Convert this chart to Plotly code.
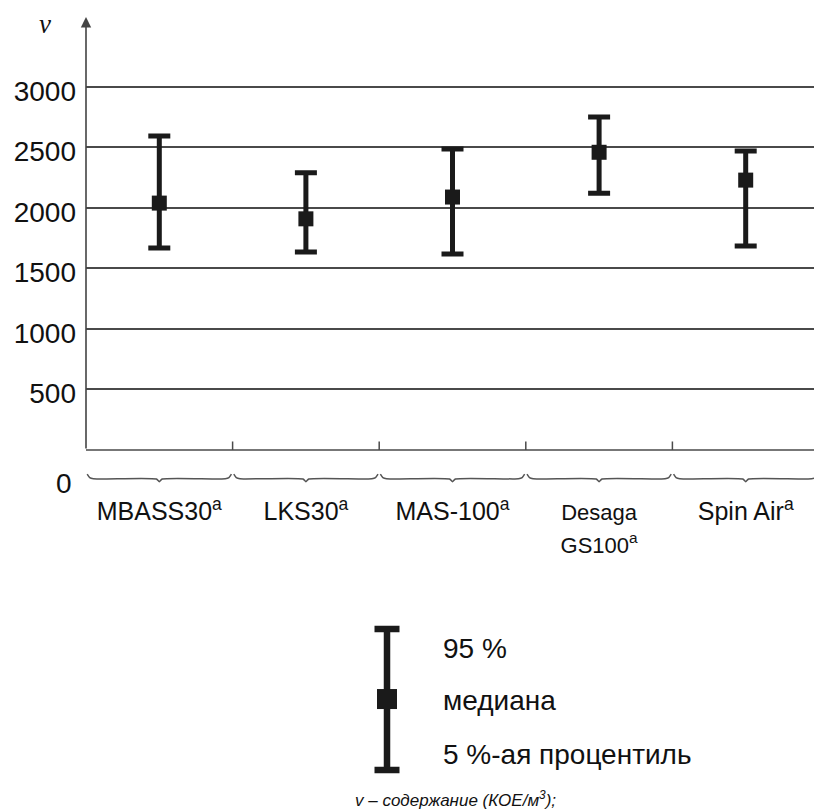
import plotly.graph_objects as go

# ---- data ----
categories = ["MBASS30", "LKS30", "MAS-100", "Desaga GS100", "Spin Air"]
tick_labels = [
    "MBASS30<sup>a</sup>",
    "LKS30<sup>a</sup>",
    "MAS-100<sup>a</sup>",
    "<span style='font-size:22px'>Desaga</span><br><span style='font-size:22px'>GS100<sup>a</sup></span>",
    "Spin Air<sup>a</sup>",
]
median = [2040, 1910, 2090, 2460, 2230]
p95 = [2595, 2290, 2488, 2752, 2471]
p5 = [1669, 1636, 1620, 2122, 1686]
y_ticks = [500, 1000, 1500, 2000, 2500, 3000]

legend_vals = [0.0625, 0.506, 0.944]   # low, median, high of the key (key axis units)
legend_texts = ["95 %", "медиана", "5 %-ая процентиль"]
legend_text_y = [0.82, 0.5, 0.16]
footnote = "v – содержание (КОЕ/м<sup>3</sup>);"

# ---- geometry ----
OFF = 8                      # page body margin of the html page
W, H = 822 - OFF, 812 - OFF
ML, MR, MT, MB = 86 - OFF, 3, 17 - OFF, 12
PW, PH = W - ML - MR, H - MT - MB
Y_TOP, Y_BOT = 3578, -331
INK = "#1a1a1a"
GRID = "#4a4a4a"
FONT = "Liberation Sans, Arial, sans-serif"


def pxx(px):
    return (px - OFF - ML) / PW


def pxy(py):
    return (H - MB - (py - OFF)) / PH


x_idx = list(range(len(categories)))
n = len(categories)

fig = go.Figure()

# category braces below the frame (decorative x-axis)
for i in x_idx:
    xs = [i - 0.492, i - 0.475, i - 0.45, i - 0.02, i, i + 0.02, i + 0.45, i + 0.475, i + 0.492]
    ys = [-200, -228, -238, -240, -262, -240, -238, -228, -200]
    fig.add_trace(go.Scatter(x=xs, y=ys, mode="lines",
                             line=dict(color="#555555", width=1.5, shape="spline", smoothing=0.6),
                             hoverinfo="skip", showlegend=False))

# main error bars
fig.add_trace(go.Scatter(
    x=x_idx, y=median, mode="markers",
    marker=dict(symbol="square", size=15, color=INK),
    error_y=dict(type="data", symmetric=False,
                 array=[h - m for h, m in zip(p95, median)],
                 arrayminus=[m - l for m, l in zip(median, p5)],
                 color=INK, thickness=5, width=11),
    showlegend=False, text=categories,
))

# legend key
fig.add_trace(go.Scatter(
    x=[pxx(387)], y=[legend_vals[1]], mode="markers", xaxis="x2", yaxis="y2",
    marker=dict(symbol="square", size=20, color=INK),
    error_y=dict(type="data", symmetric=False,
                 array=[legend_vals[2] - legend_vals[1]],
                 arrayminus=[legend_vals[1] - legend_vals[0]],
                 color=INK, thickness=6.5, width=12.5),
    showlegend=False, hoverinfo="skip",
))

shapes = []
# frame
shapes.append(dict(type="line", xref="x", yref="y", x0=-0.5, x1=n - 0.5, y0=0, y1=0,
                   line=dict(color=GRID, width=1.5)))
shapes.append(dict(type="line", xref="x", yref="y", x0=n - 0.5, x1=n - 0.5, y0=0, y1=3000,
                   line=dict(color="#555555", width=3)))
# category dividers
for i in range(1, n):
    shapes.append(dict(type="line", xref="x", yref="y", x0=i - 0.5, x1=i - 0.5, y0=0, y1=70,
                       line=dict(color=GRID, width=1.5)))

annotations = []
# y axis with arrow
annotations.append(dict(x=-0.5, y=Y_TOP, ax=-0.5, ay=0, xref="x", yref="y",
                        axref="x", ayref="y", text="", showarrow=True,
                        arrowhead=2, arrowsize=1.3, arrowwidth=1.6, arrowcolor="#444444",
                        standoff=0, startstandoff=0))
# "v" label
annotations.append(dict(x=pxx(45), y=pxy(24), xref="paper", yref="paper", text="<i>v</i>",
                        xanchor="center", yanchor="middle", showarrow=False,
                        font=dict(family="Liberation Serif, Times New Roman, serif",
                                  size=27, color="#111111")))
# "0" label
annotations.append(dict(x=pxx(74), y=-281, xref="paper", yref="y", text="0", xanchor="right",
                        yanchor="middle", showarrow=False,
                        font=dict(family=FONT, size=28, color="#111111")))
# legend texts
for t, yv in zip(legend_texts, legend_text_y):
    annotations.append(dict(x=pxx(441), y=yv, xref="paper", yref="y2", text=t, xanchor="left",
                            yanchor="middle", showarrow=False,
                            font=dict(family=FONT, size=28, color="#111111")))
# footnote
annotations.append(dict(x=pxx(455), y=pxy(799), xref="paper", yref="paper",
                        text="<i>" + footnote + "</i>", xanchor="center", yanchor="middle",
                        showarrow=False, font=dict(family=FONT, size=17, color="#111111")))

fig.update_layout(
    width=W, height=H,
    margin=dict(l=ML, r=MR, t=MT, b=MB),
    paper_bgcolor="white", plot_bgcolor="white",
    font=dict(family=FONT, color="#111111"),
    xaxis=dict(range=[-0.5, n - 0.5], domain=[0, 1], tickvals=x_idx, ticktext=tick_labels,
               tickfont=dict(size=25, family=FONT, color="#111111"),
               showgrid=False, zeroline=False, showline=False, ticks="",
               ticklabelstandoff=4, fixedrange=True),
    yaxis=dict(range=[Y_BOT, Y_TOP], domain=[pxy(490), 1], tickvals=y_ticks,
               tickfont=dict(size=28, family=FONT, color="#111111"),
               showgrid=True, gridcolor=GRID, gridwidth=1.5, zeroline=False, showline=False,
               ticks="", ticklabelstandoff=9, ticklabelshift=4, fixedrange=True),
    xaxis2=dict(range=[0, 1], domain=[0, 1], anchor="y2", visible=False, fixedrange=True),
    yaxis2=dict(range=[0, 1], domain=[pxy(780), pxy(620)], anchor="x2", visible=False,
                fixedrange=True),
    shapes=shapes, annotations=annotations,
)

fig.write_html("out.html")
